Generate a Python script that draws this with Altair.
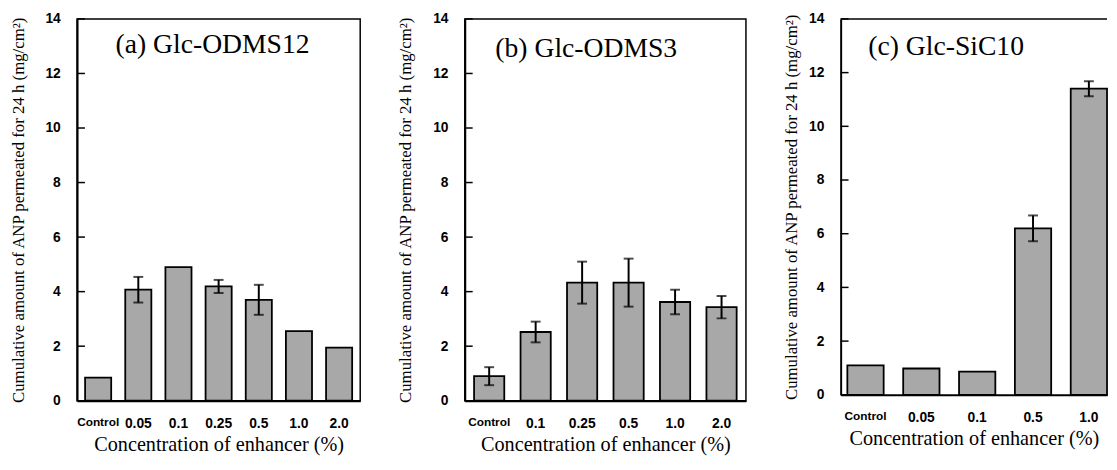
import altair as alt
import pandas as pd

# ---- data ----
a_cats = ["Control", "0.05", "0.1", "0.25", "0.5", "1.0", "2.0"]
a_vals = [0.85, 4.07, 4.9, 4.19, 3.70, 2.55, 1.95]
a_errs = [0, 0.47, 0, 0.24, 0.55, 0, 0]

b_cats = ["Control", "0.1", "0.25", "0.5", "1.0", "2.0"]
b_vals = [0.9, 2.52, 4.33, 4.33, 3.62, 3.43]
b_errs = [0.33, 0.38, 0.77, 0.88, 0.45, 0.41]

c_cats = ["Control", "0.05", "0.1", "0.5", "1.0"]
c_vals = [1.1, 0.98, 0.86, 6.2, 11.4]
c_errs = [0, 0, 0, 0.48, 0.28]

panel_titles = ["(a) Glc-ODMS12", "(b) Glc-ODMS3", "(c) Glc-SiC10"]
y_title = "Cumulative amount of ANP permeated for 24 h (mg/cm²)"
x_title = "Concentration of enhancer (%)"
y_ticks = [0, 2, 4, 6, 8, 10, 12, 14]

BAR_FILL = "#a8a8a8"


def panel(cats, vals, errs, title, width, height, title_x, title_y,
          tpad, p_outer, band_align, frame=True):
    df = pd.DataFrame({"cat": cats, "val": vals, "err": errs})
    df["lo"] = df["val"] - df["err"]
    df["hi"] = df["val"] + df["err"]
    err_df = df[df["err"] > 0]

    xscale = alt.Scale(paddingInner=0.35, paddingOuter=p_outer, align=band_align)
    xaxis = alt.Axis(
        ticks=False, labelAngle=0, labelPadding=16,
        labelFont="Liberation Sans", labelFontWeight="bold",
        labelFontSize={"expr": "datum.value == 'Control' ? 12 : 14"},
        titleFont="Liberation Serif", titleFontSize=20.5, titleFontWeight="normal",
        titlePadding=4, domainWidth=2, domainColor="black", labelColor="black",
        titleColor="black",
    )
    yscale = alt.Scale(domain=[0, 14], nice=False)
    yaxis = alt.Axis(
        values=y_ticks, ticks=False, labelPadding=17, grid=False,
        labelFont="Liberation Sans", labelFontWeight="bold", labelFontSize=14,
        titleFont="Liberation Serif", titleFontSize=17, titleFontWeight="normal",
        titlePadding=tpad, domainWidth=2, domainColor="black", labelColor="black",
        titleColor="black",
    )

    def X(field="cat"):
        return alt.X(f"{field}:N", sort=cats, scale=xscale, axis=xaxis, title=x_title)

    def Y(field):
        return alt.Y(f"{field}:Q", scale=yscale, axis=yaxis, title=y_title)

    bars = alt.Chart(df).mark_bar(fill=BAR_FILL, stroke="black", strokeWidth=1.8).encode(
        x=X(), y=Y("val")
    )
    rules = alt.Chart(err_df).mark_rule(color="black", strokeWidth=2).encode(
        x=X(), y=Y("lo"), y2="hi:Q"
    )
    cap_hi = alt.Chart(err_df).mark_tick(color="black", thickness=2, size=10,
                                         orient="horizontal").encode(x=X(), y=Y("hi"))
    cap_lo = alt.Chart(err_df).mark_tick(color="black", thickness=2, size=10,
                                         orient="horizontal").encode(x=X(), y=Y("lo"))
    inticks = alt.Chart(pd.DataFrame({"t": y_ticks})).mark_rule(
        color="black", strokeWidth=1.5).encode(
        y=Y("t"), x=alt.value(0), x2=alt.value(8)
    )
    ttl = alt.Chart(pd.DataFrame({"t": [title]})).mark_text(
        font="Liberation Serif", fontSize=28, align="left", baseline="middle",
        color="black").encode(text="t:N", x=alt.value(title_x), y=alt.value(title_y))

    layers = [bars, rules, cap_hi, cap_lo, inticks, ttl]
    if not frame:
        top = alt.Chart(pd.DataFrame({"d": [0]})).mark_rule(
            color="black", strokeWidth=1.5).encode(
            x=alt.value(0), x2=alt.value(width), y=alt.value(0))
        layers.append(top)

    view = alt.ViewBackground(stroke="black", strokeWidth=1.5) if frame else \
        alt.ViewBackground(stroke="transparent")
    return alt.layer(*layers).properties(width=width, height=height, view=view)


pa = panel(a_cats, a_vals, a_errs, panel_titles[0], 287, 387, 39, 27, 18, 0.2, 0.5)
pb = panel(b_cats, b_vals, b_errs, panel_titles[1], 285, 387, 31, 31, 18, 0.2, 0.5)
pc = panel(c_cats, c_vals, c_errs, panel_titles[2], 270, 381, 28, 29, 8, 0.06, 1.0,
           frame=False)

chart = alt.hconcat(pa, pb, pc, spacing=35).properties(
    padding={"left": 0, "top": 0, "right": 0, "bottom": 0}
).configure_view(stroke="black", strokeWidth=1.5).configure_axis(grid=False)

chart.save("out.html", embed_options={"renderer": "svg", "actions": False})
